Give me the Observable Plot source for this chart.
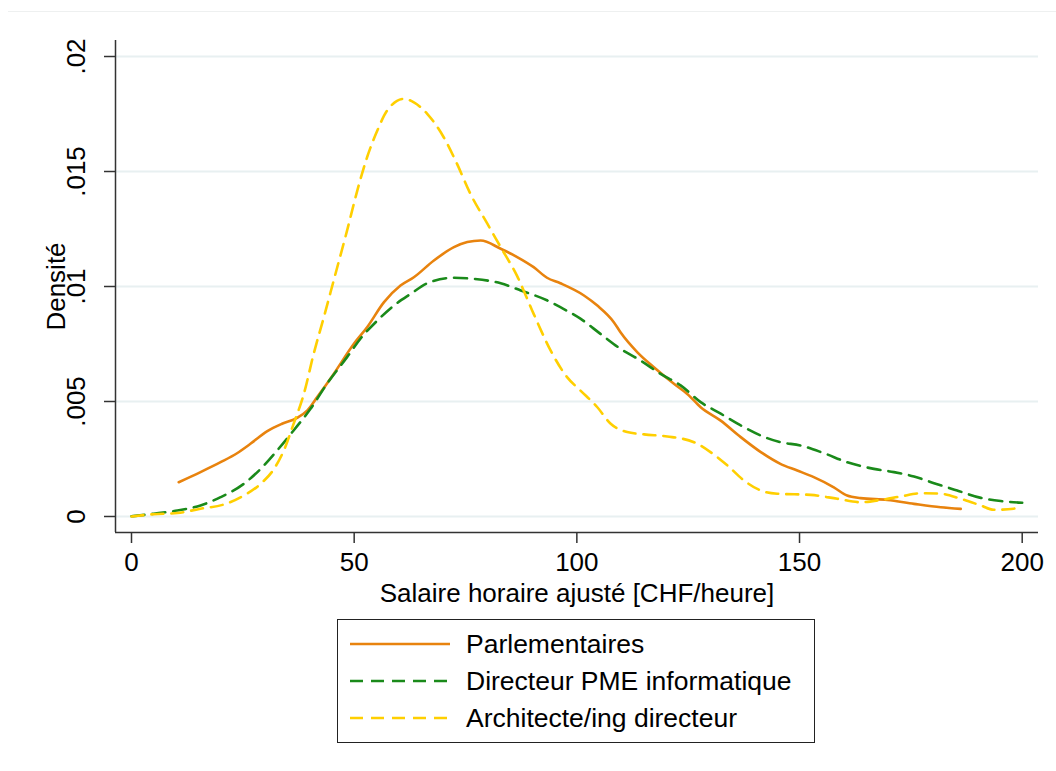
<!DOCTYPE html>
<html>
<head>
<meta charset="utf-8">
<script src="https://cdn.jsdelivr.net/npm/d3@7"></script>
<script src="https://cdn.jsdelivr.net/npm/@observablehq/plot@0.6"></script>
<style>
  body { margin: 0; background: #fff; font-family: "Liberation Sans", Arial, sans-serif; }
  #wrap { position: relative; width: 1056px; height: 771px; }
  #topline { position: absolute; left: 8px; right: 0; top: 11px; border-top: 1px solid #eef0f0; }
  #legend { position: absolute; left: 337px; top: 619px; width: 476px; height: 122px;
    border: 1px solid #222; box-sizing: content-box; }
  .row { position: absolute; left: 0; height: 30px; display: flex; align-items: center; }
  .row svg { margin-left: 12px; }
  .row span { margin-left: 16px; font-size: 26.5px; color: #000; }
</style>
</head>
<body>
<div id="wrap">
  <div id="topline"></div>
  <div id="chart"></div>
  <div id="legend"></div>
</div>
<script>
// ---- data ----
const seriesNames = ["Parlementaires", "Directeur PME informatique", "Architecte/ing directeur"];
const seriesColors = ["#E8830E", "#1A8A1A", "#FFCF00"];
const seriesDash = [null, "13,8", "12,8"];

const parlX = [10.6,15.5,20,23.7,26.7,30.5,33.8,37.2,39.5,41.7,45.4,49.9,52.9,56.7,60.4,63.4,67.9,72.4,75.4,78.4,82.9,86.6,90.3,93.3,96.3,101.6,104.6,108.3,109.8,113.6,117.3,121.8,124.8,127.8,132.3,136.8,141.3,145.7,149.5,153.2,157.7,160.7,163.7,169.7,175.7,181.7,186.2];
const parlY = [.00149,.00193,.00236,.00275,.00316,.00371,.00403,.00429,.00461,.00519,.0062,.0075,.00823,.00932,.01004,.0104,.01113,.01171,.01193,.012,.01164,.01128,.01084,.01038,.01014,.00961,.00917,.00845,.00801,.00714,.00649,.00577,.00533,.00475,.00417,.00345,.0028,.00229,.002,.00171,.00127,.00091,.0008,.00072,.00055,.0004,.00033];

const dirX = [0,5,10.3,15.5,20,25.2,29,32.7,36.4,40.2,43.9,48.4,51.4,55.2,58.9,62.7,66.4,72.4,76.9,82.9,87.4,93.4,96.3,100.8,105.3,109.8,114.3,118.8,123.3,127.8,132.3,136.8,141.3,145.7,150.2,155.5,160.7,166.7,171.2,175.7,180.2,185.4,190.7,195.2,200];
const dirY = [.00001,.00012,.00026,.00048,.00084,.00142,.00207,.00287,.00374,.00468,.00577,.00693,.00773,.00852,.00917,.00968,.01014,.01038,.01033,.01014,.00983,.00939,.0091,.0086,.00794,.00729,.00678,.0062,.0057,.00497,.00447,.00396,.00352,.00323,.00309,.00275,.00236,.00207,.00193,.00174,.00145,.00113,.00081,.00067,.0006];

const archX = [0,5,10.3,15.5,20.7,25.2,29,32,34.2,36.4,38.7,40.9,43.2,45.4,48.4,50.7,52.9,55.2,57.4,61.2,63.4,66.4,70.1,73.1,76.1,79.9,82.9,86.6,90.3,94.1,97.8,100.8,104.6,107.6,111.3,115.1,120.3,126.3,130,133.8,137.5,141.3,145,152.5,158.5,163.7,168.2,172.7,177.2,181.7,186.2,190.7,193.6,198.1,199.6];
const archY = [0,.0001,.00015,.00034,.00052,.00091,.00142,.00207,.00287,.00403,.00533,.00707,.00867,.01026,.01243,.01417,.01562,.01678,.01765,.01816,.01801,.01751,.01649,.01533,.01403,.01273,.01171,.01045,.00881,.00722,.00606,.00548,.00475,.00403,.00367,.00357,.00348,.00323,.0028,.00222,.00157,.00113,.00099,.00094,.00077,.00062,.00072,.00087,.00101,.00099,.00077,.00048,.00029,.00034,.00048];

const xTicks = [0, 50, 100, 150, 200];
const yTicks = [0, 0.005, 0.01, 0.015, 0.02];
const yTickLabels = ["0", ".005", ".01", ".015", ".02"];
const xLabel = "Salaire horaire ajusté [CHF/heure]";
const yLabel = "Densité";

// ---- build ----
const seriesXs = [parlX, dirX, archX];
const seriesYs = [parlY, dirY, archY];
const series = seriesNames.map((name, i) =>
  seriesXs[i].map((x, j) => ({x, y: seriesYs[i][j], name})));

const xDomain = [-3.593, 203.66];
const yDomain = [-0.000696, 0.020696];
const font = "Liberation Sans, Arial, sans-serif";
const fs = 26;

const lineMarks = series.map((data, i) =>
  Plot.line(data, {x: "x", y: "y", stroke: seriesColors[i], strokeWidth: 2.6,
    strokeDasharray: seriesDash[i] || undefined, curve: "monotone-x"}));

const chart = Plot.plot({
  width: 1056,
  height: 612,
  marginLeft: 115,
  marginRight: 18,
  marginTop: 40,
  marginBottom: 80,
  style: {fontFamily: font, fontSize: fs + "px", color: "#000", background: "#fff"},
  x: {domain: xDomain},
  y: {domain: yDomain},
  marks: [
    Plot.gridY(yTicks, {stroke: "#E8F0F1", strokeOpacity: 1, strokeWidth: 2}),
    ...lineMarks,
    Plot.ruleX([xDomain[0]], {stroke: "#333", strokeWidth: 1.5}),
    Plot.ruleY([yDomain[0]], {stroke: "#333", strokeWidth: 1.5}),
    Plot.axisY(yTicks, {tickSize: 11, tickFormat: () => "", label: null, stroke: "#333", strokeWidth: 1.5}),
    Plot.text(yTicks, {x: xDomain[0], y: d => d, text: (d, i) => yTickLabels[i], rotate: -90,
      dx: -39, fontSize: fs, fill: "#000", textAnchor: "middle", lineAnchor: "middle"}),
    Plot.axisX(xTicks, {tickSize: 11, tickPadding: 9, tickFormat: d => String(d), label: null,
      stroke: "#333", strokeWidth: 1.5, fontSize: fs, fill: "#000"}),
    Plot.text([xLabel], {frameAnchor: "bottom", dy: 61, fontSize: fs, fill: "#000",
      textAnchor: "middle", lineAnchor: "middle"}),
    Plot.text([yLabel], {frameAnchor: "left", rotate: -90, dx: -59, fontSize: fs, fill: "#000",
      textAnchor: "middle", lineAnchor: "middle"})
  ]
});
document.getElementById("chart").appendChild(chart);

// ---- legend ----
const legend = document.getElementById("legend");
const rowTops = [9, 46, 83];
seriesNames.forEach((name, i) => {
  const row = document.createElement("div");
  row.className = "row";
  row.style.top = rowTops[i] + "px";
  const dash = seriesDash[i] ? `stroke-dasharray="13,8"` : "";
  row.innerHTML = `<svg width="100" height="6"><line x1="0" y1="3" x2="100" y2="3" stroke="${seriesColors[i]}" stroke-width="2.6" ${dash}/></svg><span>${name}</span>`;
  legend.appendChild(row);
});
</script>
</body>
</html>
